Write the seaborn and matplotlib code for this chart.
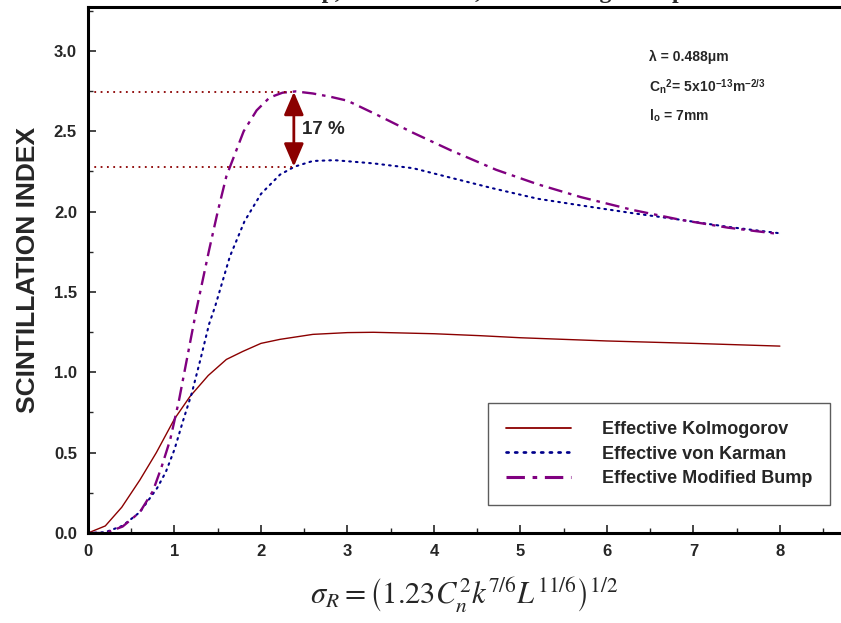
import numpy as np
import pandas as pd
import matplotlib
matplotlib.use("Agg")
import matplotlib.pyplot as plt
import seaborn as sns
from matplotlib.ticker import MultipleLocator

# ---- data ----
kol_x = [0, 0.2, 0.39, 0.6, 0.79, 1.0, 1.18, 1.39, 1.6, 1.79, 2.0, 2.22, 2.6, 3.0, 3.3, 4.0, 4.53, 5.0, 6.0, 7.0, 8.0]
kol_y = [0, 0.044, 0.16, 0.33, 0.50, 0.71, 0.85, 0.98, 1.08, 1.13, 1.18, 1.205, 1.236, 1.247, 1.249, 1.24, 1.228, 1.215, 1.195, 1.18, 1.163]

vk_x = [0, 0.2, 0.4, 0.6, 0.8, 0.9, 1.0, 1.1, 1.2, 1.3, 1.4, 1.47, 1.64, 1.81, 2.0, 2.22, 2.39, 2.6, 2.85, 3.3, 3.76, 4.2, 4.68, 5.2, 5.68, 6.3, 6.84, 7.4, 8.0]
vk_y = [0, 0.005, 0.045, 0.13, 0.28, 0.38, 0.52, 0.70, 0.87, 1.08, 1.30, 1.41, 1.72, 1.94, 2.11, 2.23, 2.28, 2.315, 2.32, 2.30, 2.27, 2.21, 2.145, 2.08, 2.04, 1.99, 1.95, 1.905, 1.865]

mb_x = [0, 0.2, 0.4, 0.6, 0.75, 0.85, 0.95, 1.05, 1.15, 1.25, 1.4, 1.5, 1.6, 1.7, 1.8, 1.95, 2.1, 2.25, 2.4, 2.6, 2.8, 3.0, 3.35, 3.76, 4.2, 4.72, 5.2, 5.7, 6.3, 6.84, 7.4, 8.0]
mb_y = [0, 0.0, 0.04, 0.13, 0.26, 0.41, 0.58, 0.82, 1.10, 1.38, 1.76, 2.0, 2.22, 2.36, 2.50, 2.63, 2.71, 2.74, 2.748, 2.735, 2.715, 2.69, 2.60, 2.49, 2.38, 2.26, 2.17, 2.09, 2.01, 1.95, 1.90, 1.86]

series_names = ["Effective Kolmogorov", "Effective von Karman", "Effective Modified Bump"]
peak_mb = 2.745
peak_vk = 2.28
peak_x = 2.38
pct_label = "17 %"

x_ticks = [0, 1, 2, 3, 4, 5, 6, 7, 8]
y_ticks = [0.0, 0.5, 1.0, 1.5, 2.0, 2.5, 3.0]

df = pd.concat([
    pd.DataFrame({"x": kol_x, "y": kol_y, "series": series_names[0]}),
    pd.DataFrame({"x": vk_x, "y": vk_y, "series": series_names[1]}),
    pd.DataFrame({"x": mb_x, "y": mb_y, "series": series_names[2]}),
])

sns.set_style("white")
plt.rcParams['font.family'] = ['Liberation Sans', 'DejaVu Sans']
plt.rcParams['mathtext.fontset'] = 'stix'

fig = plt.figure(figsize=(8.41, 6.23), dpi=100)
ax = fig.add_axes([88/841, 90/623, 1 - 88/841 - 1/841, (533-7)/623])

colors = {series_names[0]: "#8b0000", series_names[1]: "#00008b", series_names[2]: "#800080"}
widths = {series_names[0]: 1.0, series_names[1]: 1.5, series_names[2]: 1.7}

for name in series_names:
    sub = df[df.series == name]
    sns.lineplot(data=sub, x="x", y="y", ax=ax, color=colors[name],
                 lw=widths[name], label=name, sort=False)
    line = ax.lines[-1]
    if name == series_names[1]:
        line.set_linestyle((0, (0.8, 2.4)))
        line.set_dash_capstyle('round')
    elif name == series_names[2]:
        line.set_linestyle((0, (6, 2.5, 1.5, 2.5)))

# reference dotted lines and arrow
ax.plot([0, peak_x], [peak_mb, peak_mb], color="#8b0000", lw=1.3, linestyle=(0, (1, 2.5)))
ax.plot([0, peak_x], [peak_vk, peak_vk], color="#8b0000", lw=1.3, linestyle=(0, (1, 2.5)))
ax.annotate("", xy=(peak_x, peak_vk), xytext=(peak_x, peak_mb),
            arrowprops=dict(arrowstyle="<|-|>,head_length=1.4,head_width=0.6",
                            color="#8b0000", lw=2, shrinkA=0, shrinkB=0))
ax.text(peak_x + 0.1, (peak_mb + peak_vk) / 2, pct_label, fontsize=13.5, fontweight="bold",
        ha="left", va="center")

ax.set_xlim(0, (841 - 88) / 86.6)
ax.set_ylim(0, (533 - 7) / 160.7)
ax.set_xticks(x_ticks)
ax.set_yticks(y_ticks)
ax.set_xticklabels([str(v) for v in x_ticks])
ax.set_yticklabels([f"{v:.1f}" for v in y_ticks])
ax.xaxis.set_minor_locator(MultipleLocator(0.5))
ax.yaxis.set_minor_locator(MultipleLocator(0.25))
ax.tick_params(which="major", direction="in", length=6, width=1.2, labelsize=12, pad=8)
ax.tick_params(which="minor", direction="in", length=3.5, width=1)
ax.tick_params(axis="both", which="both", top=False, right=False, bottom=True, left=True)
for lab in ax.get_xticklabels() + ax.get_yticklabels():
    lab.set_fontweight("bold")
for s in ["left", "bottom", "top"]:
    ax.spines[s].set_linewidth(2.2)
    ax.spines[s].set_color("black")
ax.spines["right"].set_visible(False)

ax.set_ylabel("SCINTILLATION INDEX", fontsize=19, fontweight="bold", labelpad=10)
ax.set_xlabel(r"$\sigma_R=\left(1.23C_n^2k^{7/6}L^{11/6}\right)^{1/2}$", fontsize=22, labelpad=12)

# parameter annotations
xa = (650 - 88) / 86.6
ax.text(xa, (533-57)/160.7, "λ = 0.488μm", fontsize=10, fontweight="bold", va="center")
ax.text(xa, (533-87)/160.7, r"C$_\mathregular{n}$$^\mathregular{2}$= 5x10$^\mathregular{-13}$m$^\mathregular{-2/3}$",
        fontsize=10, fontweight="bold", va="center")
ax.text(xa, (533-116)/160.7, r"l$_\mathregular{o}$ = 7mm", fontsize=10, fontweight="bold", va="center")

leg = ax.legend(loc="lower right", bbox_to_anchor=(1 - 10/753, 28/526), frameon=True, fancybox=False,
                prop={"weight": "bold", "size": 13}, handlelength=3.6, borderpad=1.0,
                labelspacing=0.4, handletextpad=1.7, borderaxespad=0)
leg.get_frame().set_edgecolor("#333333")
leg.get_frame().set_linewidth(1.0)
for h in leg.get_lines():
    h.set_linewidth(h.get_linewidth() * 1.3)

# cut-off title at the very top (only its lower edge shows, as in the reference)
fig.text(0.56, 1 + 2/623, "Modified Bump, von Karman, and Kolmogorov spectrums",
         family="Liberation Serif", fontweight="bold", fontsize=17, ha="center", va="baseline")

fig.savefig("out.png", dpi=100)
